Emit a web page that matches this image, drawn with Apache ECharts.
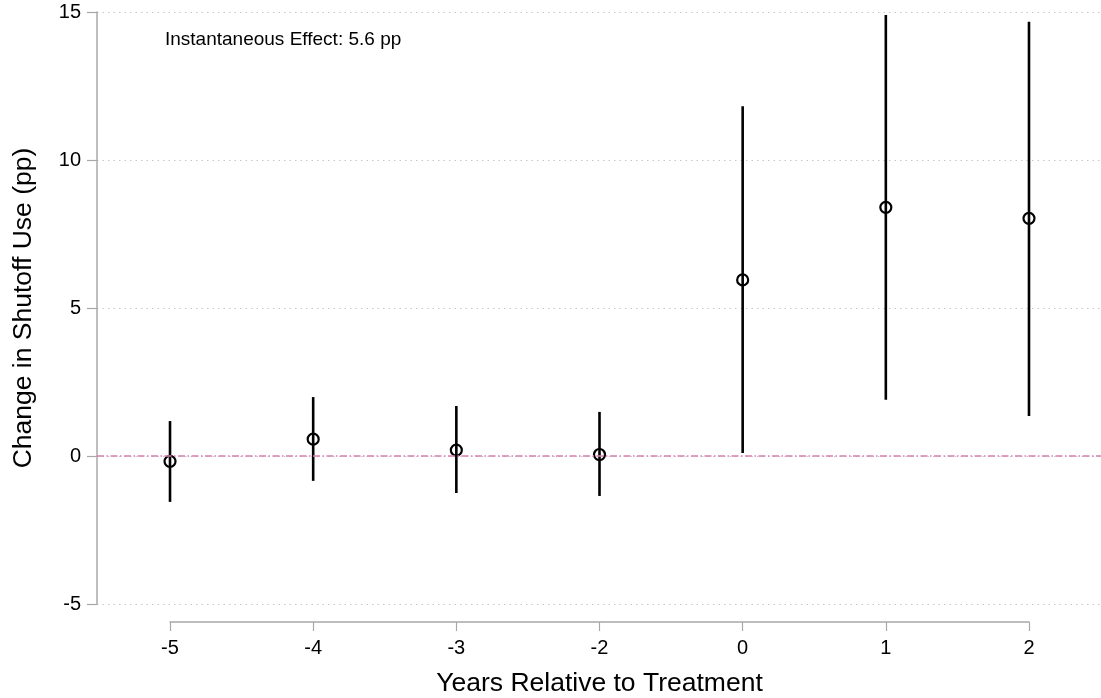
<!DOCTYPE html>
<html>
<head>
<meta charset="utf-8">
<script src="https://cdn.jsdelivr.net/npm/echarts@6/dist/echarts.min.js"></script>
<style>
html,body{margin:0;padding:0;background:#fff;}
#chart{width:1101px;height:698px;}
</style>
</head>
<body>
<div id="chart"></div>
<script>
const categories = ['-5', '-4', '-3', '-2', '0', '1', '2'];
const estimates = [-0.18, 0.57, 0.2, 0.05, 5.95, 8.4, 8.03];
const ciLower = [-1.55, -0.84, -1.25, -1.35, 0.1, 1.9, 1.35];
const ciUpper = [1.18, 1.99, 1.69, 1.49, 11.82, 14.9, 14.67];
const yTicks = [-5, 0, 5, 10, 15];
const annotation = 'Instantaneous Effect: 5.6 pp';

const FONT = '"Liberation Sans", Arial, Helvetica, sans-serif';
const pointData = estimates.map((v, i) => [i, v]);
const ciData = estimates.map((v, i) => [i, ciLower[i], ciUpper[i]]);

const chart = echarts.init(document.getElementById('chart'), null, {renderer: 'canvas'});
chart.setOption({
  animation: false,
  backgroundColor: '#fff',
  grid: [
    {left: 97, right: 0, top: 12, bottom: 94, containLabel: false, outerBoundsMode: 'none'},
    {left: 170, right: 72, top: 12, bottom: 94, containLabel: false, outerBoundsMode: 'none'}
  ],
  xAxis: [
    {
      type: 'value', gridIndex: 0, min: -0.51, max: 6.503,
      show: false
    },
    {
      type: 'category', gridIndex: 1, data: categories, boundaryGap: false,
      offset: 18,
      axisLine: {show: true, onZero: false, lineStyle: {color: '#a8a8a8', width: 1.5}},
      axisTick: {show: true, length: 9, alignWithLabel: true, lineStyle: {color: '#a8a8a8', width: 1.2}},
      axisLabel: {color: '#000', fontFamily: FONT, fontSize: 20, margin: 16},
      splitLine: {show: false},
      name: 'Years Relative to Treatment',
      nameLocation: 'middle', nameGap: 48,
      nameTextStyle: {color: '#000', fontFamily: FONT, fontSize: 26.5}
    }
  ],
  yAxis: [
    {
      type: 'value', gridIndex: 0, min: -5, max: 15, interval: 5,
      axisLine: {show: true, onZero: false, lineStyle: {color: '#a8a8a8', width: 1.5}},
      axisTick: {show: true, length: 10, lineStyle: {color: '#a8a8a8', width: 1.2}},
      axisLabel: {color: '#000', fontFamily: FONT, fontSize: 20, margin: 16,
        formatter: v => yTicks.includes(v) ? String(v) : ''},
      splitLine: {show: true, lineStyle: {color: '#c8c8c8', type: [1.5, 4], width: 1}},
      name: 'Change in Shutoff Use (pp)',
      nameLocation: 'middle', nameGap: 60, nameRotate: 90,
      nameTextStyle: {color: '#000', fontFamily: FONT, fontSize: 26.5}
    },
    {
      type: 'value', gridIndex: 1, min: -5, max: 15, show: false
    }
  ],
  graphic: [{
    type: 'text', left: 165, top: 30,
    style: {text: annotation, fill: '#000', font: '19px ' + FONT}
  }],
  series: [
    {
      type: 'line', xAxisIndex: 0, yAxisIndex: 0, data: [],
      markLine: {
        silent: true, symbol: 'none', label: {show: false},
        lineStyle: {color: '#d47fb4', width: 1.5, type: [7, 2.5, 1.5, 2.5]},
        data: [{yAxis: 0}]
      }
    },
    {
      type: 'custom', xAxisIndex: 0, yAxisIndex: 0, data: ciData, z: 3,
      renderItem: function (params, api) {
        const p1 = api.coord([api.value(0), api.value(1)]);
        const p2 = api.coord([api.value(0), api.value(2)]);
        return {
          type: 'line',
          shape: {x1: p1[0], y1: p1[1], x2: p2[0], y2: p2[1]},
          style: {stroke: '#000', lineWidth: 2.6}
        };
      }
    },
    {
      type: 'scatter', xAxisIndex: 0, yAxisIndex: 0, data: pointData, z: 4,
      symbol: 'circle', symbolSize: 11,
      itemStyle: {color: 'rgba(255,255,255,0)', borderColor: '#000', borderWidth: 2.2, opacity: 1}
    }
  ]
});
</script>
</body>
</html>
